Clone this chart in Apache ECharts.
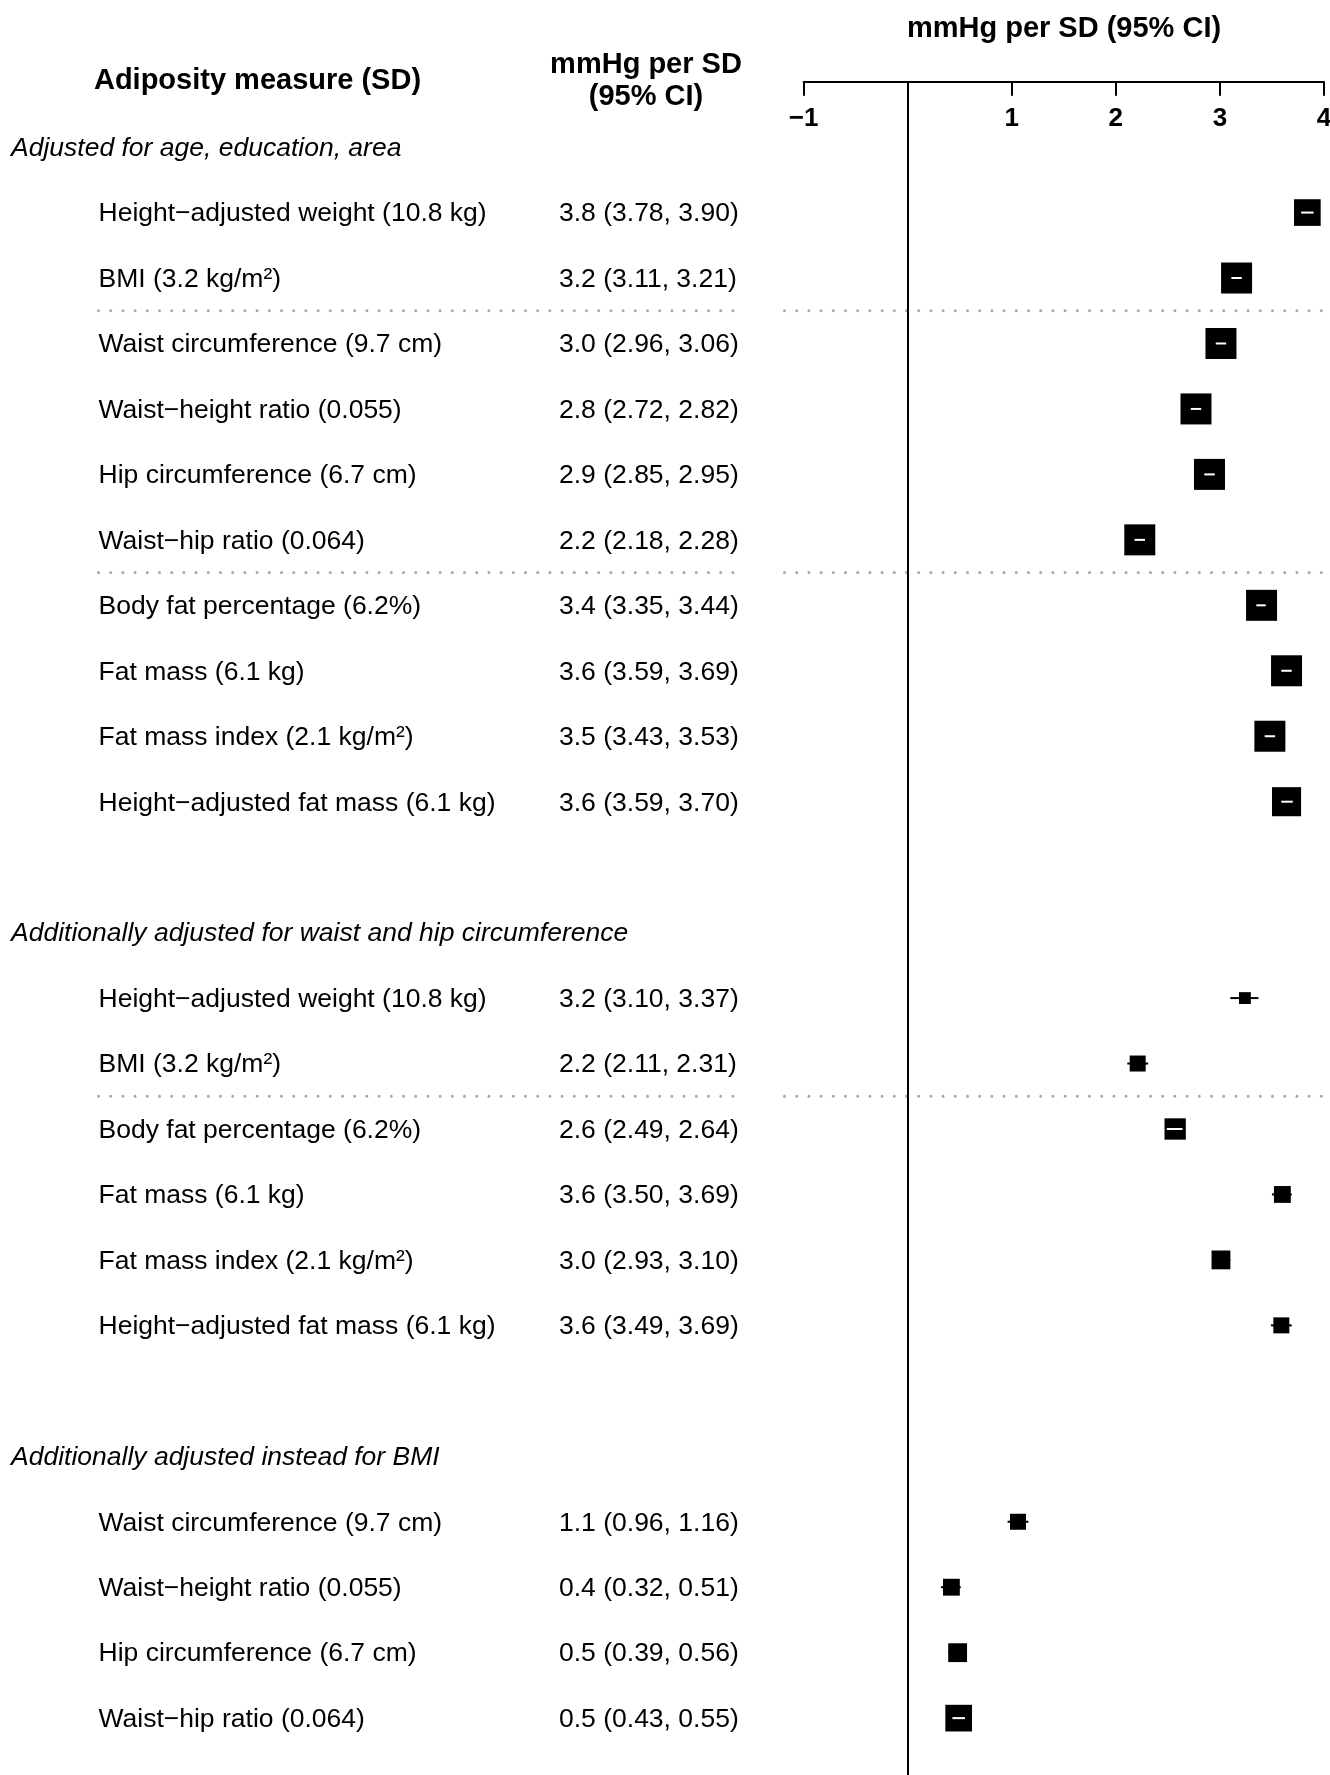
<!DOCTYPE html>
<html>
<head>
<meta charset="utf-8">
<script src="https://cdn.jsdelivr.net/npm/echarts@6/dist/echarts.min.js"></script>
<style>
  html, body { margin: 0; padding: 0; background: #fff; }
  #chart { width: 1330px; height: 1775px; }
</style>
</head>
<body>
<div id="chart"></div>
<script>
// Section titles
const groupTitles = [
  'Adjusted for age, education, area',
  'Additionally adjusted for waist and hip circumference',
  'Additionally adjusted instead for BMI'
];

// Section 1: adjusted for age, education, area
const g1Labels = [
  'Height\u2212adjusted weight (10.8 kg)',
  'BMI (3.2 kg/m\u00b2)',
  'Waist circumference (9.7 cm)',
  'Waist\u2212height ratio (0.055)',
  'Hip circumference (6.7 cm)',
  'Waist\u2212hip ratio (0.064)',
  'Body fat percentage (6.2%)',
  'Fat mass (6.1 kg)',
  'Fat mass index (2.1 kg/m\u00b2)',
  'Height\u2212adjusted fat mass (6.1 kg)'
];
const g1Est = [3.84, 3.16, 3.01, 2.77, 2.90, 2.23, 3.40, 3.64, 3.48, 3.64];
const g1Lo  = [3.78, 3.11, 2.96, 2.72, 2.85, 2.18, 3.35, 3.59, 3.43, 3.59];
const g1Hi  = [3.90, 3.21, 3.06, 2.82, 2.95, 2.28, 3.44, 3.69, 3.53, 3.70];
const g1Breaks = [2, 6];

// Section 2: additionally adjusted for waist and hip circumference
const g2Labels = [
  'Height\u2212adjusted weight (10.8 kg)',
  'BMI (3.2 kg/m\u00b2)',
  'Body fat percentage (6.2%)',
  'Fat mass (6.1 kg)',
  'Fat mass index (2.1 kg/m\u00b2)',
  'Height\u2212adjusted fat mass (6.1 kg)'
];
const g2Est = [3.24, 2.21, 2.57, 3.60, 3.01, 3.59];
const g2Lo  = [3.10, 2.11, 2.49, 3.50, 2.93, 3.49];
const g2Hi  = [3.37, 2.31, 2.64, 3.69, 3.10, 3.69];
const g2Breaks = [2];

// Section 3: additionally adjusted instead for BMI
const g3Labels = [
  'Waist circumference (9.7 cm)',
  'Waist\u2212height ratio (0.055)',
  'Hip circumference (6.7 cm)',
  'Waist\u2212hip ratio (0.064)'
];
const g3Est = [1.06, 0.42, 0.48, 0.49];
const g3Lo  = [0.96, 0.32, 0.39, 0.43];
const g3Hi  = [1.16, 0.51, 0.56, 0.55];
const g3Breaks = [];

// Axis ticks
const xTicks = [-1, 0, 1, 2, 3, 4];

const FONT = '"Liberation Sans", Arial, Helvetica, sans-serif';
const TEXT_DY = 1.5;

const groups = [
  { title: groupTitles[0], labels: g1Labels, est: g1Est, lo: g1Lo, hi: g1Hi, breaks: g1Breaks },
  { title: groupTitles[1], labels: g2Labels, est: g2Est, lo: g2Lo, hi: g2Hi, breaks: g2Breaks },
  { title: groupTitles[2], labels: g3Labels, est: g3Est, lo: g3Lo, hi: g3Hi, breaks: g3Breaks }
];

// Lay the rows out: header, items, one blank row between sections
const tableRows = [];
const boxData = [];
const sepRows = [];
let row = 0;
groups.forEach(function (g, gi) {
  if (gi > 0) row += 1;
  tableRows.push({ r: row, kind: 'head', text: g.title });
  row += 1;
  g.labels.forEach(function (lab, i) {
    const txt = g.est[i].toFixed(1) + ' (' + g.lo[i].toFixed(2) + ', ' + g.hi[i].toFixed(2) + ')';
    tableRows.push({ r: row, kind: 'item', text: lab, value: txt });
    boxData.push([g.est[i], row, g.lo[i], g.hi[i]]);
    if (g.breaks.indexOf(i + 1) >= 0) sepRows.push(row + 0.5);
    row += 1;
  });
});

// Row pitch and the y range shown in the plotting grid
const ROW_PX = 65.46;
const FIRST_ROW_Y = 147.1;
const Y_MIN = -1;
const Y_MAX = Y_MIN + (1775 - (FIRST_ROW_Y + Y_MIN * ROW_PX)) / ROW_PX;

const chart = echarts.init(document.getElementById('chart'), null, { renderer: 'canvas' });

function txt(x, y, text, font, align) {
  return {
    type: 'text',
    style: {
      x: x, y: y, text: text, font: font, fill: '#000',
      textAlign: align, align: align,
      textVerticalAlign: 'middle', verticalAlign: 'middle'
    }
  };
}

function header(x, y, text) {
  return {
    type: 'text', x: x, y: y,
    style: {
      text: text, font: 'bold 29px ' + FONT, fill: '#000',
      textAlign: 'center', align: 'center',
      textVerticalAlign: 'middle', verticalAlign: 'middle'
    }
  };
}

const gridTop = FIRST_ROW_Y + Y_MIN * ROW_PX;

const option = {
  animation: false,
  backgroundColor: '#fff',
  grid: {
    left: 803.6, top: gridTop, width: 520.4, height: (Y_MAX - Y_MIN) * ROW_PX - 0.01,
    containLabel: false,
    outerBoundsMode: 'none'
  },
  xAxis: {
    type: 'value',
    position: 'top',
    min: -1, max: 4, interval: 1,
    axisLine: { show: true, onZero: false, lineStyle: { color: '#000', width: 2 } },
    axisTick: { show: true, inside: true, length: 14, lineStyle: { color: '#000', width: 2 } },
    splitLine: { show: false },
    axisLabel: {
      inside: true, margin: 24, color: '#000',
      fontFamily: FONT, fontWeight: 'bold', fontSize: 26,
      showMinLabel: true, showMaxLabel: true,
      formatter: function (v) {
        if (xTicks.indexOf(v) < 0 || v === 0) return '';
        return v < 0 ? '\u2212' + Math.abs(v) : String(v);
      }
    }
  },
  yAxis: {
    type: 'value', inverse: true, min: Y_MIN, max: Y_MAX,
    show: false
  },
  graphic: [
    header(257.5, 81, 'Adiposity measure (SD)'),
    header(646, 65, 'mmHg per SD'),
    header(646, 97, '(95% CI)'),
    header(1064, 29, 'mmHg per SD (95% CI)')
  ],
  series: [
    {
      // table text: section headers, measure names and estimates
      type: 'custom',
      clip: false,
      silent: true,
      data: tableRows.map(function (t) { return [0, t.r]; }),
      renderItem: function (params, api) {
        const t = tableRows[params.dataIndex];
        const y = api.coord([0, api.value(1)])[1] + TEXT_DY;
        if (t.kind === 'head') {
          return txt(11, y, t.text, 'italic 26.5px ' + FONT, 'left');
        }
        return {
          type: 'group',
          children: [
            txt(98.5, y, t.text, '26.5px ' + FONT, 'left'),
            txt(559, y, t.value, '26.5px ' + FONT, 'left')
          ]
        };
      }
    },
    {
      // dotted separators between measure families
      type: 'custom',
      clip: false,
      silent: true,
      data: sepRows.map(function (r) { return [0, r]; }),
      renderItem: function (params, api) {
        const y = api.coord([0, api.value(1)])[1];
        const st = { stroke: '#a8a8a8', lineWidth: 3, lineDash: [0, 12.2], lineCap: 'round' };
        return {
          type: 'group',
          children: [
            { type: 'line', shape: { x1: 98.5, y1: y, x2: 738, y2: y }, style: st },
            { type: 'line', shape: { x1: 784.5, y1: y, x2: 1330, y2: y }, style: st }
          ]
        };
      }
    },
    {
      // estimates: square sized by precision, with CI line
      type: 'custom',
      clip: false,
      silent: true,
      encode: { x: [0, 2, 3], y: 1 },
      data: boxData,
      renderItem: function (params, api) {
        const est = api.value(0), r = api.value(1), lo = api.value(2), hi = api.value(3);
        const c = api.coord([est, r]);
        const pl = api.coord([lo, r]);
        const ph = api.coord([hi, r]);
        const s = Math.min(3.2 / (hi - lo), 31);
        const ciInside = (ph[0] - pl[0]) < s - 1.5;
        const children = [];
        if (!ciInside) {
          children.push({ type: 'line', shape: { x1: pl[0], y1: c[1], x2: ph[0], y2: c[1] }, style: { stroke: '#000', lineWidth: 2 } });
        }
        children.push({ type: 'rect', shape: { x: c[0] - s / 2, y: c[1] - s / 2, width: s, height: s }, style: { fill: '#000' } });
        if (ciInside) {
          children.push({ type: 'line', shape: { x1: pl[0], y1: c[1], x2: ph[0], y2: c[1] }, style: { stroke: '#fff', lineWidth: 2 } });
        }
        return { type: 'group', children: children };
      },
      markLine: {
        silent: true,
        symbol: 'none',
        label: { show: false },
        lineStyle: { color: '#000', width: 2, type: 'solid' },
        data: [{ xAxis: 0 }]
      }
    }
  ]
};

chart.setOption(option);
</script>
</body>
</html>
